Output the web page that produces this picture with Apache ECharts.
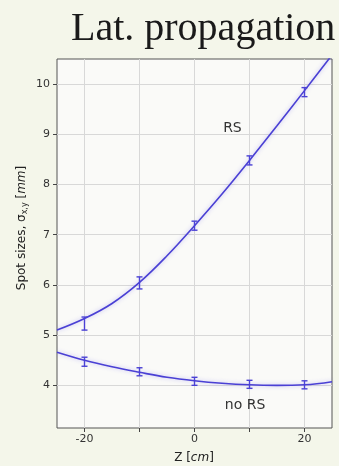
<!DOCTYPE html>
<html><head><meta charset="utf-8">
<script src="https://cdn.jsdelivr.net/npm/echarts@6/dist/echarts.min.js"></script>
<style>html,body{margin:0;padding:0;background:#f4f6ea;}#c{width:339px;height:466px;}</style>
</head><body><div id="c"></div>
<script>
// Measured positions (cm)
const zPoints = [-20, -10, 0, 10, 20];
const rsValues = [5.23, 6.04, 7.18, 8.48, 9.84];
const rsErrors = [0.13, 0.12, 0.09, 0.09, 0.09];
const noRsValues = [4.47, 4.27, 4.08, 4.02, 4.01];
const noRsErrors = [0.09, 0.08, 0.08, 0.08, 0.08];
// Fit curves
const fitZ = [-25, -20, -15, -10, -5, 0, 5, 10, 15, 20, 25];
const rsFit = [5.10, 5.33, 5.63, 6.05, 6.58, 7.18, 7.81, 8.48, 9.17, 9.87, 10.58];
const noRsFit = [4.66, 4.50, 4.37, 4.26, 4.16, 4.09, 4.04, 4.01, 4.00, 4.01, 4.07];
const xTicks = [-20, -10, 0, 10, 20];
const xLabels = [-20, 0, 20];
const yTicks = [4, 5, 6, 7, 8, 9, 10];

const C = '#4a40d4';
const chart = echarts.init(document.getElementById('c'));
function pairs(xs, ys){ return xs.map((x,i)=>[x, ys[i]]); }
function errData(vals, errs){ return zPoints.map((z,i)=>[z, vals[i]-errs[i], vals[i]+errs[i]]); }
function errRender(params, api){
  const lo = api.coord([api.value(0), api.value(1)]);
  const hi = api.coord([api.value(0), api.value(2)]);
  const w = 3;
  const st = {stroke: C, lineWidth: 1.4};
  return {type:'group', children:[
    {type:'line', shape:{x1:lo[0],y1:lo[1],x2:hi[0],y2:hi[1]}, style:st},
    {type:'line', shape:{x1:lo[0]-w,y1:lo[1],x2:lo[0]+w,y2:lo[1]}, style:st},
    {type:'line', shape:{x1:hi[0]-w,y1:hi[1],x2:hi[0]+w,y2:hi[1]}, style:st}
  ]};
}
const lineStyle = {color: C, width: 1.6, shadowColor: 'rgba(120,110,240,0.45)', shadowBlur: 4};
chart.setOption({
  backgroundColor: '#f4f6ea',
  animation: false,
  title: {text: 'Lat. propagation', left: 66, top: 4,
    textStyle: {fontFamily: 'Liberation Serif', fontSize: 40, fontWeight: 'normal', color: '#1a1a1a'}},
  grid: {left: 57, right: 7, top: 59, bottom: 38, show: true, backgroundColor: '#fafaf8', borderColor: '#555', borderWidth: 1},
  xAxis: {type: 'value', min: -25, max: 25,
    axisLine: {show: false, onZero: false},
    axisTick: {show: true, length: 4, customValues: xTicks, lineStyle: {color: '#444'}},
    axisLabel: {customValues: xLabels, fontFamily: 'DejaVu Sans', fontSize: 11, color: '#333', margin: 6},
    splitLine: {show: true, lineStyle: {color: '#d8d8d8', width: 1}}},
  yAxis: {type: 'value', min: 3.15, max: 10.5,
    axisLine: {show: false, onZero: false},
    axisTick: {show: true, length: 4, customValues: yTicks, lineStyle: {color: '#444'}},
    axisLabel: {customValues: yTicks, fontFamily: 'DejaVu Sans', fontSize: 11, color: '#333', margin: 7},
    splitLine: {show: true, lineStyle: {color: '#d8d8d8', width: 1}}},
  graphic: [
    {type: 'text', x: 22, y: 228, rotation: Math.PI/2, style: {
      text: '{a|Spot sizes, σ}{s|x,y}{a| [}{i|mm}{a|]}', align: 'center', verticalAlign: 'middle',
      rich: {a: {fontFamily: 'DejaVu Sans', fontSize: 12, fill: '#222'},
             s: {fontFamily: 'DejaVu Sans', fontSize: 8, fill: '#222', padding: [6,0,0,0]},
             i: {fontFamily: 'DejaVu Sans', fontStyle: 'italic', fontSize: 12, fill: '#222'}}}},
    {type: 'text', x: 194, y: 458, style: {
      text: '{a|Z [}{i|cm}{a|]}', align: 'center', verticalAlign: 'middle',
      rich: {a: {fontFamily: 'DejaVu Sans', fontSize: 12, fill: '#222'},
             i: {fontFamily: 'DejaVu Sans', fontStyle: 'italic', fontSize: 12, fill: '#222'}}}}
  ],
  series: [
    {type: 'line', data: pairs(fitZ, rsFit), smooth: 0.4, showSymbol: false, lineStyle: lineStyle, clip: true,
      markPoint: {symbol: 'rect', symbolSize: 1, itemStyle: {color: 'transparent'},
        label: {show: true, formatter: 'RS', fontFamily: 'DejaVu Sans', fontSize: 14, color: '#333'},
        data: [{coord: [6.9, 9.11]}]}},
    {type: 'line', data: pairs(fitZ, noRsFit), smooth: 0.4, showSymbol: false, lineStyle: lineStyle, clip: true,
      markPoint: {symbol: 'rect', symbolSize: 1, itemStyle: {color: 'transparent'},
        label: {show: true, formatter: 'no RS', fontFamily: 'DejaVu Sans', fontSize: 14, color: '#333'},
        data: [{coord: [9.2, 3.6]}]}},
    {type: 'custom', renderItem: errRender, data: errData(rsValues, rsErrors), encode: {x: 0, y: [1, 2]}, z: 3},
    {type: 'custom', renderItem: errRender, data: errData(noRsValues, noRsErrors), encode: {x: 0, y: [1, 2]}, z: 3}
  ]
});
</script></body></html>
